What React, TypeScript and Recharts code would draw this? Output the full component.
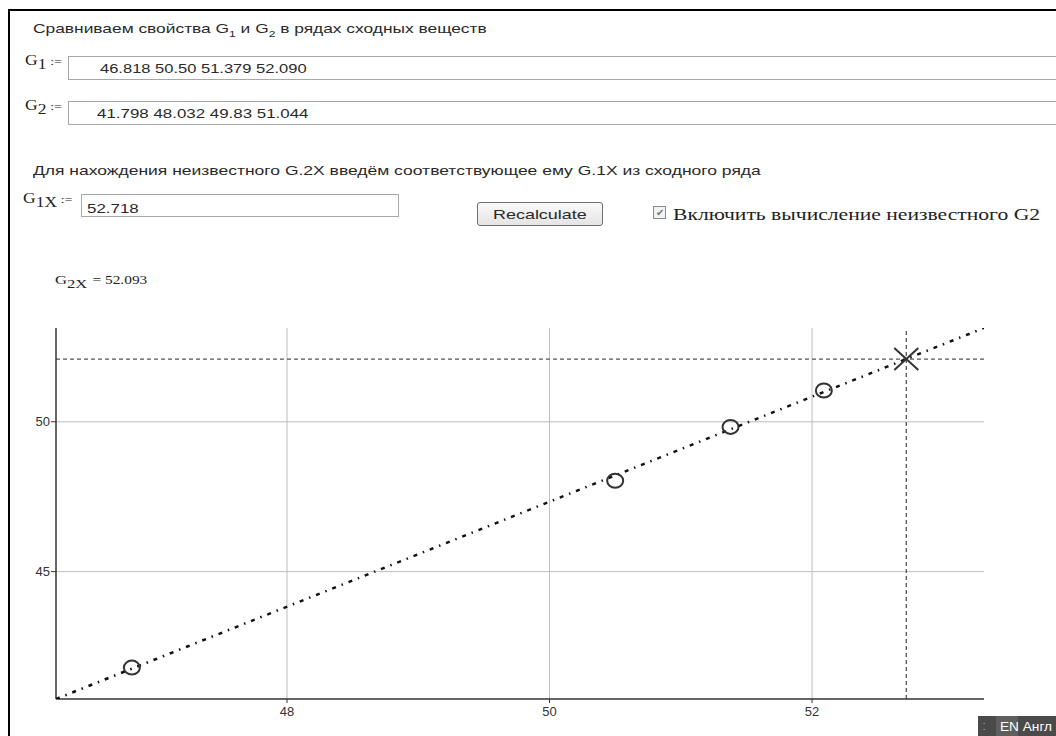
import React from 'react';
import { ScatterChart, Scatter, XAxis, YAxis, ReferenceLine } from 'recharts';

// ряды сходных веществ
const g1Values = [46.818, 50.5, 51.379, 52.09];
const g2Values = [41.798, 48.032, 49.83, 51.044];
const g1Labels = ['46.818', '50.50', '51.379', '52.090'];
const g2Labels = ['41.798', '48.032', '49.83', '51.044'];

// неизвестное
const g1x = [52.718];
const g2x = [52.093];

// концы прямой регрессии (по краям графика)
const fitX = [46.24, 53.31];
const fitY = [40.75, 53.13];

const xTicks = [48, 50, 52];
const yTicks = [45, 50];
const xDomain = [46.24, 53.31];
const yDomain = [40.75, 53.13];

const pointData = g1Values.map((x, i) => ({ x, y: g2Values[i] }));
const fitData = fitX.map((x, i) => ({ x, y: fitY[i] }));
const targetData = g1x.map((x, i) => ({ x, y: g2x[i] }));

const SANS = '"Liberation Sans", Arial, sans-serif';
const SERIF = '"Liberation Serif", "Times New Roman", serif';

function Txt({ x, y, size = 13, sx = 1.3, font = SANS, color = '#2a2a2a', children }: any) {
  return (
    <div
      style={{
        position: 'absolute',
        left: x,
        top: y,
        fontFamily: font,
        fontSize: size,
        lineHeight: `${size}px`,
        color,
        whiteSpace: 'nowrap',
        transform: `scaleX(${sx})`,
        transformOrigin: 'left top',
      }}
    >
      {children}
    </div>
  );
}

function Label({ x, y, sub, tail = ':=', tailSize = 11 }: { x: number; y: number; sub: string; tail?: string; tailSize?: number }) {
  return (
    <div
      style={{
        position: 'absolute',
        left: x,
        top: y,
        fontFamily: SERIF,
        color: '#222',
        whiteSpace: 'nowrap',
        lineHeight: '14px',
        transform: 'scaleX(1.25)',
        transformOrigin: 'left top',
      }}
    >
      <span style={{ fontSize: 14 }}>G</span>
      <span style={{ fontSize: 14, position: 'relative', top: 4 }}>{sub}</span>
      <span style={{ fontSize: tailSize, marginLeft: 3 }}>{tail}</span>
    </div>
  );
}

const Circle = (props: any) => {
  const { cx, cy } = props;
  return <ellipse cx={cx} cy={cy} rx={8} ry={7} fill="none" stroke="#333" strokeWidth={2} />;
};

const Cross = (props: any) => {
  const { cx, cy } = props;
  return (
    <g stroke="#333" strokeWidth={2}>
      <line x1={cx - 12} y1={cy - 11} x2={cx + 12} y2={cy + 11} />
      <line x1={cx - 12} y1={cy + 11} x2={cx + 12} y2={cy - 11} />
    </g>
  );
};

const boxStyle: React.CSSProperties = {
  position: 'absolute',
  border: '1px solid #a8a8a8',
  background: '#fff',
  boxSizing: 'border-box',
};

export default function App() {
  return (
    <div style={{ position: 'absolute', left: 0, top: 0, width: 1056, height: 736, overflow: 'hidden', background: '#fff' }}>
      {/* рамка */}
      <div style={{ position: 'absolute', left: 8, top: 9, width: 1048, height: 2, background: '#000' }} />
      <div style={{ position: 'absolute', left: 8, top: 9, width: 2, height: 727, background: '#000' }} />

      <Txt x={33} y={22} sx={1.335}>
        Сравниваем свойства G<sub style={{ fontSize: 9 }}>1</sub> и G<sub style={{ fontSize: 9 }}>2</sub> в рядах сходных веществ
      </Txt>

      <Label x={25} y={53} sub="1" />
      <div style={{ ...boxStyle, left: 68, top: 56, width: 1100, height: 24 }} />
      <Txt x={100} y={62} sx={1.27}>{g1Labels.join(' ')}</Txt>

      <Label x={25} y={98} sub="2" />
      <div style={{ ...boxStyle, left: 68, top: 101, width: 1100, height: 24 }} />
      <Txt x={97} y={107} sx={1.3}>{g2Labels.join(' ')}</Txt>

      <Txt x={33} y={164} sx={1.345}>Для нахождения неизвестного G.2X введём соответствующее ему G.1X из сходного ряда</Txt>

      <Label x={23} y={191} sub="1X" />
      <div style={{ ...boxStyle, left: 81, top: 194, width: 318, height: 23 }} />
      <Txt x={87} y={202}>{String(g1x[0])}</Txt>

      <div
        style={{
          position: 'absolute',
          left: 477,
          top: 202,
          width: 126,
          height: 24,
          boxSizing: 'border-box',
          border: '1px solid #6f6f6f',
          borderRadius: 3,
          background: 'linear-gradient(#fafafa, #e4e4e4)',
        }}
      />
      <Txt x={493} y={208} sx={1.38}>Recalculate</Txt>

      <div
        style={{
          position: 'absolute',
          left: 653,
          top: 206,
          width: 13,
          height: 13,
          boxSizing: 'border-box',
          border: '1px solid #8c8c8c',
          background: '#f2f2f2',
          color: '#777',
          fontSize: 10,
          lineHeight: '11px',
          textAlign: 'center',
          fontFamily: SANS,
        }}
      >
        ✔
      </div>
      <Txt x={673} y={207} size={16} sx={1.35} font={SERIF} color="#222">Включить вычисление неизвестного G2</Txt>

      <div
        style={{
          position: 'absolute',
          left: 55,
          top: 272,
          fontFamily: SERIF,
          color: '#222',
          whiteSpace: 'nowrap',
          lineHeight: '13px',
          transform: 'scaleX(1.28)',
          transformOrigin: 'left top',
        }}
      >
        <span style={{ fontSize: 13 }}>G</span>
        <span style={{ fontSize: 13, position: 'relative', top: 4 }}>2X</span>
        <span style={{ fontSize: 12, marginLeft: 4 }}>= {String(g2x[0])}</span>
      </div>

      <div style={{ position: 'absolute', left: 0, top: 300 }}>
        <ScatterChart width={1056} height={436} margin={{ top: 28, right: 72, bottom: 7, left: 16 }}>
          <XAxis
            type="number"
            dataKey="x"
            domain={xDomain}
            ticks={xTicks}
            interval={0}
            allowDataOverflow
            height={30}
            tickSize={4}
            tickMargin={4}
            axisLine={{ stroke: '#333', strokeWidth: 1.5 }}
            tickLine={{ stroke: '#333' }}
            tick={{ fill: '#333', fontSize: 13, fontFamily: SANS }}
          />
          <YAxis
            type="number"
            dataKey="y"
            domain={yDomain}
            ticks={yTicks}
            interval={0}
            allowDataOverflow
            width={40}
            tickSize={5}
            tickMargin={1}
            axisLine={{ stroke: '#333', strokeWidth: 1.5 }}
            tickLine={{ stroke: '#333' }}
            tick={{ fill: '#333', fontSize: 13, fontFamily: SANS }}
          />
          {/* сетка только по делениям */}
          {xTicks.map((t) => (
            <ReferenceLine key={`gx${t}`} x={t} stroke="#bdbdbd" strokeWidth={1} />
          ))}
          {yTicks.map((t) => (
            <ReferenceLine key={`gy${t}`} y={t} stroke="#bdbdbd" strokeWidth={1} />
          ))}
          <ReferenceLine y={g2x[0]} stroke="#555" strokeWidth={1.3} strokeDasharray="4 3" />
          <ReferenceLine x={g1x[0]} stroke="#555" strokeWidth={1.3} strokeDasharray="4 3" />
          <Scatter
            data={fitData}
            fill="#111"
            line={{ stroke: '#111', strokeWidth: 2.5, strokeDasharray: '4 6 1.5 6' }}
            shape={() => <g />}
            legendType="none"
            isAnimationActive={false}
          />
          <Scatter data={pointData} shape={Circle} legendType="none" isAnimationActive={false} />
          <Scatter data={targetData} shape={Cross} legendType="none" isAnimationActive={false} />
        </ScatterChart>
      </div>

      {/* языковая панель */}
      <div style={{ position: 'absolute', left: 978, top: 716, width: 78, height: 20, background: '#4a4a4a' }} />
      <div style={{ position: 'absolute', left: 996, top: 716, width: 22, height: 20, background: '#5e5e5e' }} />
      <div style={{ position: 'absolute', left: 983, top: 719, color: '#bbb', fontSize: 10, fontFamily: SANS }}>⁚</div>
      <Txt x={1000} y={720} size={13} sx={1.05} color="#fff">EN Англ</Txt>
    </div>
  );
}
